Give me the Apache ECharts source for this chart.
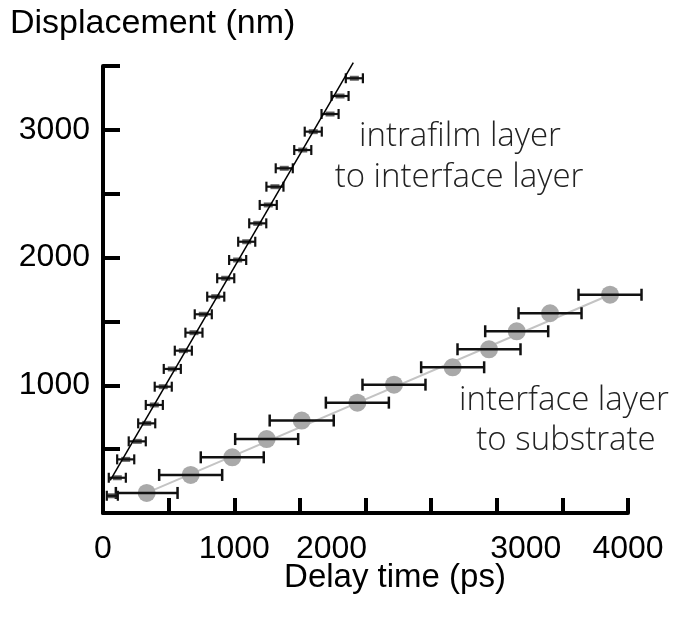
<!DOCTYPE html>
<html>
<head>
<meta charset="utf-8">
<script src="https://cdn.jsdelivr.net/npm/echarts@6/dist/echarts.min.js"></script>
<style>
  html, body { margin: 0; padding: 0; background: #fff; }
  #chart { width: 674px; height: 624px; }
</style>
</head>
<body>
<div id="chart"></div>
<script>
// Intrafilm layer -> interface layer (delay time in ps, displacement in nm, half-width of time error)
const fastTime = [71, 109, 173, 261, 333, 391, 459, 528, 612, 693, 764, 859, 935, 1026, 1095, 1179, 1259, 1310, 1381, 1522, 1602, 1730, 1806, 1915];
const fastDisp = [135, 276, 420, 561, 702, 846, 989, 1128, 1271, 1412, 1556, 1694, 1838, 1981, 2124, 2268, 2412, 2555, 2699, 2842, 2986, 3124, 3265, 3404];
const fastErr  = [42, 65, 65, 65, 65, 65, 65, 65, 65, 65, 65, 65, 65, 65, 65, 65, 65, 65, 65, 65, 65, 65, 65, 65];

// Interface layer -> substrate
const slowTime = [333, 668, 985, 1247, 1514, 1938, 2217, 2664, 2941, 3152, 3406, 3863];
const slowDisp = [157, 298, 436, 579, 724, 864, 1005, 1141, 1282, 1423, 1564, 1709];
const slowErr  = [235, 240, 240, 240, 244, 240, 240, 240, 240, 240, 240, 240];

// Linear fits (end points, ps / nm)
const fastFit = [[55, 255], [1907, 3526]];
const slowFit = [[333, 157], [3863, 1709]];

// Axis ticks
const xTickLabels = [0, 1000, 2000, 3000, 4000];
const yTickLabels = [1000, 2000, 3000];

const fastData = fastTime.map((t, i) => [t, fastDisp[i]]);
const slowData = slowTime.map((t, i) => [t, slowDisp[i]]);
const fastBars = fastTime.map((t, i) => [t, fastDisp[i], t - fastErr[i], t + fastErr[i]]);
const slowBars = slowTime.map((t, i) => [t, slowDisp[i], t - slowErr[i], t + slowErr[i]]);

function errorBar(capHalf, width) {
  return function (params, api) {
    const y = api.value(1);
    const a = api.coord([api.value(2), y]);
    const b = api.coord([api.value(3), y]);
    const st = { stroke: '#111', lineWidth: width };
    return {
      type: 'group',
      children: [
        { type: 'line', shape: { x1: a[0], y1: a[1], x2: b[0], y2: b[1] }, style: st },
        { type: 'line', shape: { x1: a[0], y1: a[1] - capHalf, x2: a[0], y2: a[1] + capHalf }, style: st },
        { type: 'line', shape: { x1: b[0], y1: b[1] - capHalf, x2: b[0], y2: b[1] + capHalf }, style: st }
      ]
    };
  };
}

const labelFont = 'Liberation Sans, Arial, Helvetica, sans-serif';
const tickSize = 32;
const noteStyle = {
  fontFamily: 'Open Sans', fontWeight: 300, fontSize: 33, fill: '#222',
  textAlign: 'center', textVerticalAlign: 'middle'
};

const chart = echarts.init(document.getElementById('chart'), null, { renderer: 'canvas' });
chart.setOption({
  backgroundColor: '#fff',
  animation: false,
  grid: { left: 103, right: 46, top: 66, bottom: 111, containLabel: false },
  xAxis: {
    type: 'value', min: 0, max: 4000, interval: 500,
    axisLine: { lineStyle: { color: '#000', width: 4 } },
    axisTick: { inside: true, length: 15, lineStyle: { color: '#000', width: 4 } },
    splitLine: { show: false },
    axisLabel: {
      margin: 20, color: '#000', fontFamily: labelFont, fontSize: tickSize,
      formatter: v => {
        if (!xTickLabels.includes(v)) return '';
        if (v === 2000) return '{l|' + v + '}';
        if (v === 3000) return '{r|' + v + '}';
        return '{n|' + v + '}';
      },
      rich: {
        n: { fontFamily: labelFont, fontSize: tickSize, color: '#000' },
        l: { fontFamily: labelFont, fontSize: tickSize, color: '#000', padding: [0, 68, 0, 0] },
        r: { fontFamily: labelFont, fontSize: tickSize, color: '#000', padding: [0, 0, 0, 58] }
      }
    }
  },
  yAxis: {
    type: 'value', min: 0, max: 3500, interval: 500,
    axisLine: { lineStyle: { color: '#000', width: 4 } },
    axisTick: { inside: true, length: 17, lineStyle: { color: '#000', width: 4 } },
    splitLine: { show: false },
    axisLabel: {
      margin: 13, color: '#000', fontFamily: labelFont, fontSize: tickSize,
      formatter: v => yTickLabels.includes(v) ? String(v) : ''
    }
  },
  series: [
    {
      type: 'line', data: slowFit, symbol: 'none', silent: true, z: 1,
      lineStyle: { color: '#c4c4c4', width: 2 }
    },
    {
      type: 'scatter', data: slowData, symbol: 'circle', symbolSize: 18, z: 2,
      itemStyle: { color: '#a9a9a9', opacity: 1 }
    },
    {
      type: 'custom', data: slowBars, renderItem: errorBar(6, 2.5), z: 3,
      encode: { x: [0, 2, 3], y: 1 }
    },
    {
      type: 'scatter', data: fastData, symbol: 'rect', symbolSize: [9, 5], z: 4,
      itemStyle: { color: '#3a3a3a' }
    },
    {
      type: 'custom', data: fastBars, renderItem: errorBar(5, 2.2), z: 5,
      encode: { x: [0, 2, 3], y: 1 }
    },
    {
      type: 'line', data: fastFit, symbol: 'none', silent: true, clip: false, z: 6,
      lineStyle: { color: '#000', width: 1.5 }
    }
  ],
  graphic: [
    { type: 'text', x: 10, y: 24, style: { text: 'Displacement (nm)', fontFamily: labelFont, fontSize: 34, fill: '#000', textVerticalAlign: 'middle' } },
    { type: 'text', x: 395, y: 578, style: { text: 'Delay time (ps)', fontFamily: labelFont, fontSize: 33, fill: '#000', textAlign: 'center', textVerticalAlign: 'middle' } },
    { type: 'text', x: 460, y: 137, style: Object.assign({ text: 'intrafilm layer' }, noteStyle) },
    { type: 'text', x: 459, y: 178, style: Object.assign({ text: 'to interface layer' }, noteStyle) },
    { type: 'text', x: 564, y: 401, style: Object.assign({ text: 'interface layer' }, noteStyle) },
    { type: 'text', x: 566, y: 441, style: Object.assign({ text: 'to substrate' }, noteStyle) }
  ]
});
</script>
</body>
</html>
